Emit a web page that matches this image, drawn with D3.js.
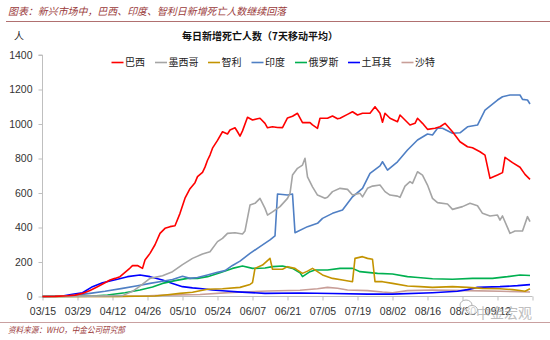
<!DOCTYPE html>
<html>
<head>
<meta charset="utf-8">
<script src="https://cdn.jsdelivr.net/npm/d3@7"></script>
<style>
  html, body { margin: 0; padding: 0; background: #fff; }
  svg { display: block; }
</style>
</head>
<body>
<div id="chart"></div>
<script>
// Day 0 = 03/15; each series is a list of [day, deaths (7-day average)]
const tickLabels = ["03/15","03/29","04/12","04/26","05/10","05/24","06/07","06/21","07/05","07/19","08/02","08/16","08/30","09/12"];
const tickDays = [0,14,28,42,56,70,84,98,112,126,140,154,168,182];
const axisEndDay = 196;
const yTicks = [0,200,400,600,800,1000,1200,1400];

const seriesNames = ["巴西","墨西哥","智利","印度","俄罗斯","土耳其","沙特"];
const seriesColors = ["#FF0000","#A5A5A5","#C39300","#4F7FC4","#00B050","#0000FF","#C89E98"];

const brazil = [[0,0],[5,1],[10,4],[13,8],[16,18],[19,35],[22,57],[25,80],[27,96],[29,105],[31,115],[33,140],[35,165],[36,179],[38,180],[40,163],[41,212],[43,250],[45,300],[47,366],[49,395],[51,405],[53,410],[55,482],[57,570],[59,625],[61,660],[62,695],[64,720],[65,750],[66,790],[67,820],[68,860],[70,905],[72,955],[74,942],[75,965],[77,978],[78,955],[79,930],[80,960],[82,1039],[84,1023],[86,1030],[87,1033],[89,1004],[90,978],[92,984],[94,980],[96,979],[98,1035],[100,1045],[102,1062],[104,1008],[107,1008],[108,995],[110,975],[111,1033],[114,1033],[116,1046],[118,1030],[119,1033],[122,1056],[124,1071],[126,1052],[128,1062],[131,1062],[133,1100],[135,1062],[136,1010],[137,1062],[139,1033],[142,1013],[143,1052],[145,1023],[147,994],[149,1004],[150,1033],[152,1004],[154,969],[157,975],[159,984],[161,1004],[164,955],[167,897],[170,868],[172,862],[175,839],[177,820],[179,685],[182,704],[184,718],[185,807],[188,776],[191,749],[193,708],[195,679]];

const mexico = [[0,0],[20,2],[32,5],[36,30],[39,60],[43,105],[48,120],[52,144],[56,185],[60,221],[64,246],[67,260],[70,318],[72,337],[74,366],[77,370],[80,362],[81,380],[83,530],[85,540],[87,569],[89,511],[90,472],[92,491],[95,521],[98,569],[99,598],[100,704],[102,743],[104,762],[105,801],[106,694],[108,636],[110,588],[113,569],[114,575],[116,608],[119,627],[122,621],[124,588],[127,598],[128,578],[130,627],[132,640],[135,646],[137,608],[139,588],[142,582],[143,575],[145,640],[147,666],[148,656],[150,723],[152,704],[154,646],[156,569],[158,544],[162,536],[164,505],[168,521],[171,540],[174,526],[176,482],[179,467],[182,472],[183,443],[184,467],[187,366],[189,380],[192,380],[194,463],[195,434]];

const chile = [[0,0],[30,1],[45,3],[50,10],[55,18],[60,25],[66,42],[72,45],[79,53],[83,70],[84,80],[85,163],[88,182],[91,221],[92,158],[96,158],[98,173],[101,163],[102,153],[104,134],[106,147],[108,163],[110,144],[112,125],[116,105],[120,96],[124,86],[125,221],[128,231],[130,221],[132,216],[133,86],[136,86],[140,76],[146,61],[151,57],[156,53],[164,57],[170,53],[176,47],[183,45],[188,40],[191,35],[193,30],[195,45]];

const india = [[0,0],[10,2],[19,18],[25,30],[32,47],[38,62],[43,76],[48,88],[52,99],[56,117],[59,105],[62,110],[66,125],[70,140],[73,150],[76,180],[79,205],[83,250],[87,289],[91,328],[93,351],[94,594],[98,588],[100,594],[101,370],[106,405],[110,424],[112,453],[116,482],[120,501],[124,578],[128,627],[131,714],[135,757],[136,781],[138,733],[142,781],[146,849],[150,907],[154,942],[156,936],[158,975],[160,975],[164,946],[167,949],[170,984],[174,994],[175,1023],[177,1081],[182,1139],[184,1158],[187,1168],[191,1168],[192,1143],[194,1139],[195,1116]];

const russia = [[0,0],[20,2],[26,9],[33,22],[39,38],[44,55],[48,76],[53,92],[58,105],[62,105],[66,115],[71,138],[76,163],[80,177],[84,163],[89,165],[92,173],[96,177],[100,163],[103,138],[104,115],[107,144],[109,154],[114,154],[119,163],[124,163],[127,144],[134,134],[140,130],[146,115],[149,112],[156,103],[164,100],[172,105],[180,105],[186,115],[191,125],[195,122]];

const turkey = [[0,0],[8,3],[12,13],[16,22],[20,57],[24,80],[30,100],[34,115],[39,125],[43,115],[48,96],[52,76],[56,57],[60,50],[64,45],[68,38],[72,33],[78,27],[89,18],[103,20],[116,17],[130,14],[140,14],[156,22],[166,30],[170,40],[174,53],[183,57],[190,63],[195,69]];

const saudi = [[0,0],[30,1],[40,3],[50,8],[63,12],[76,24],[90,32],[103,36],[110,45],[114,53],[118,48],[122,38],[130,34],[136,26],[140,22],[146,34],[156,38],[170,34],[183,30],[195,26]];

const allSeries = [brazil, mexico, chile, india, russia, turkey, saudi];

const W = 550, H = 340;
const svg = d3.select("#chart").append("svg").attr("width", W).attr("height", H);

const cjk = "'Noto Sans CJK SC', 'Noto Sans', sans-serif";
const latin = "'Liberation Sans', Arial, sans-serif";
const darkRed = "#9A3A3A";

// Header
svg.append("text").attr("x", 8).attr("y", 15)
  .attr("font-family", cjk).attr("font-size", 10).attr("font-style", "italic")
  .attr("fill", darkRed).attr("textLength", 278).attr("lengthAdjust", "spacingAndGlyphs")
  .text("图表：新兴市场中，巴西、印度、智利日新增死亡人数继续回落");
svg.append("line").attr("x1", 6).attr("x2", 550).attr("y1", 21.5).attr("y2", 21.5)
  .attr("stroke", "#B07070").attr("stroke-width", 1);

svg.append("text").attr("x", 14).attr("y", 40)
  .attr("font-family", cjk).attr("font-size", 10).attr("fill", "#222").text("人");
svg.append("text").attr("x", 260).attr("y", 40).attr("text-anchor", "middle")
  .attr("font-family", cjk).attr("font-size", 10).attr("font-weight", "bold").attr("fill", "#111")
  .text("每日新增死亡人数（7天移动平均）");

// Scales
const x = d3.scaleLinear().domain([0, axisEndDay]).range([42.5, 532.5]);
const y = d3.scaleLinear().domain([0, 1400]).range([296.5, 55]);

// Y axis
const yAxis = svg.append("g").attr("transform", "translate(42.5,0)")
  .call(d3.axisLeft(y).tickValues(yTicks).tickSize(4).tickPadding(6).tickFormat(d3.format("d")));
yAxis.select(".domain").attr("stroke", "#BFBFBF").attr("d", `M-4,${y(1400)}H0V${y(0)}`);
yAxis.selectAll(".tick line").attr("stroke", "#BFBFBF");
yAxis.selectAll(".tick text").attr("font-family", latin).attr("font-size", 10.5).attr("fill", "#333");

// X axis
const xAxis = svg.append("g").attr("transform", `translate(0,${y(0)})`)
  .call(d3.axisBottom(x).tickValues(tickDays.concat([axisEndDay])).tickSize(4).tickPadding(7)
    .tickFormat((d) => { const i = tickDays.indexOf(d); return i >= 0 ? tickLabels[i] : ""; }));
xAxis.select(".domain").attr("stroke", "#BFBFBF").attr("d", `M${x(0)},0H${x(axisEndDay)}`);
xAxis.selectAll(".tick line").attr("stroke", "#BFBFBF");
xAxis.selectAll(".tick text").attr("font-family", latin).attr("font-size", 10.5).attr("fill", "#333");

// Lines
const line = d3.line().x(d => x(d[0])).y(d => y(d[1]));
svg.append("g").selectAll("path")
  .data(allSeries.map((s, i) => ({ s, i })).reverse())
  .join("path")
  .attr("d", d => line(d.s))
  .attr("fill", "none")
  .attr("stroke", d => seriesColors[d.i])
  .attr("stroke-width", 1.6)
  .attr("stroke-linejoin", "round");

// Legend
const legendX = [111.5, 155, 208, 251.5, 295, 348, 401.5];
const lg = svg.append("g");
seriesNames.forEach((name, i) => {
  lg.append("line").attr("x1", legendX[i]).attr("x2", legendX[i] + 12)
    .attr("y1", 62.5).attr("y2", 62.5).attr("stroke", seriesColors[i]).attr("stroke-width", 1.6);
  lg.append("text").attr("x", legendX[i] + 13.5).attr("y", 66)
    .attr("font-family", cjk).attr("font-size", 10).attr("fill", "#222").text(name);
});

// Footer
svg.append("line").attr("x1", 0).attr("x2", 550).attr("y1", 322.5).attr("y2", 322.5)
  .attr("stroke", "#C9A0A0").attr("stroke-width", 1.2);
svg.append("text").attr("x", 8).attr("y", 333)
  .attr("font-family", cjk).attr("font-size", 8.5).attr("font-style", "italic")
  .attr("fill", darkRed).attr("textLength", 117).attr("lengthAdjust", "spacingAndGlyphs")
  .text("资料来源：WHO，中金公司研究部");

// Watermark
const wm = svg.append("g").attr("opacity", 0.75);
wm.append("ellipse").attr("cx", 466).attr("cy", 305).attr("rx", 6).attr("ry", 5)
  .attr("fill", "none").attr("stroke", "#9a9a9a").attr("stroke-width", 1);
wm.append("ellipse").attr("cx", 472).attr("cy", 310).attr("rx", 5.5).attr("ry", 4.5)
  .attr("fill", "#fff").attr("stroke", "#9a9a9a").attr("stroke-width", 1);
wm.append("text").attr("x", 476).attr("y", 318)
  .attr("font-family", cjk).attr("font-size", 14).attr("fill", "#aaa").text("中金宏观");
</script>
</body>
</html>
